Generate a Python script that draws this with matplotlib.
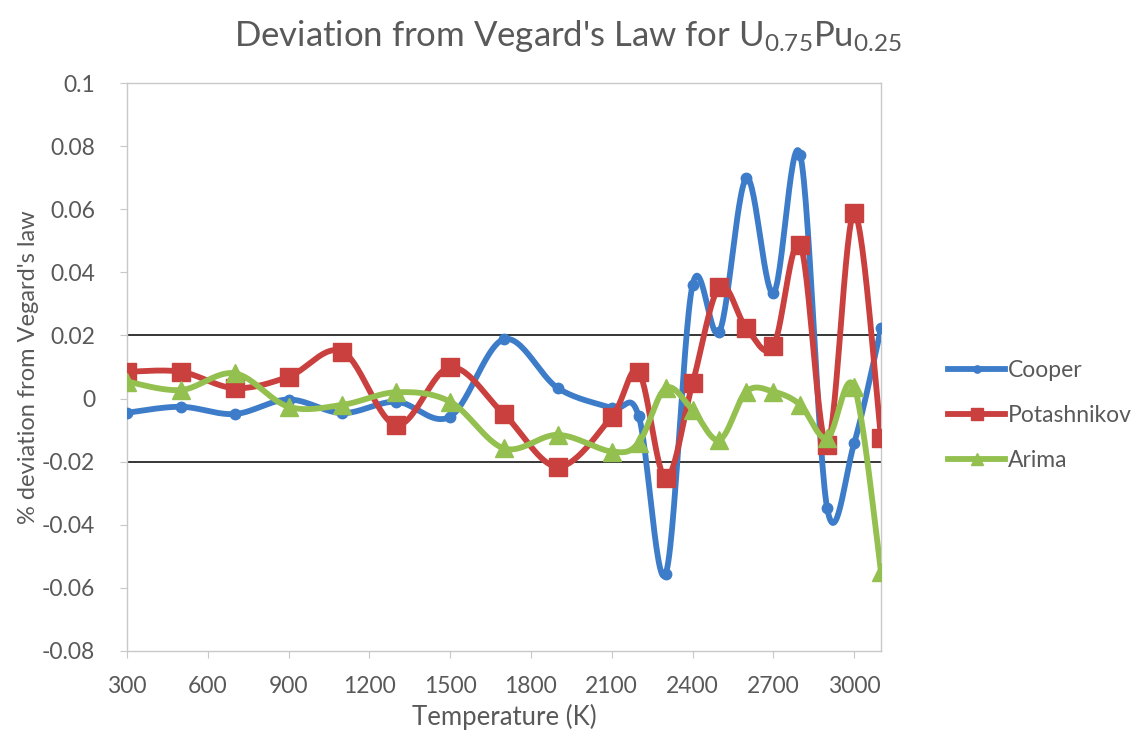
import numpy as np
import matplotlib
matplotlib.use("Agg")
import matplotlib.pyplot as plt
from matplotlib.lines import Line2D

plt.rcParams['font.family'] = ['Lato', 'DejaVu Sans']
plt.rcParams['mathtext.default'] = 'regular'

# data
temps = [300, 500, 700, 900, 1100, 1300, 1500, 1700, 1900, 2100,
         2200, 2300, 2400, 2500, 2600, 2700, 2800, 2900, 3000, 3100]
cooper = [-0.0045, -0.0026, -0.0049, -0.0003, -0.0046, -0.001, -0.0057, 0.0188, 0.0033, -0.003,
          -0.0055, -0.0556, 0.036, 0.0212, 0.0698, 0.0334, 0.0772, -0.0348, -0.0142, 0.0223]
potashnikov = [0.0085, 0.0085, 0.0033, 0.0069, 0.0149, -0.0084, 0.0099, -0.005, -0.0216, -0.0057,
               0.0085, -0.0253, 0.0048, 0.0355, 0.0223, 0.0165, 0.0487, -0.0147, 0.0587, -0.0126]
arima = [0.0054, 0.0027, 0.008, -0.0026, -0.002, 0.002, -0.001, -0.0158, -0.0115, -0.0168,
         -0.014, 0.0033, -0.0036, -0.0131, 0.0022, 0.0022, -0.002, -0.0126, 0.0038, -0.0549]
limits = [0.02, -0.02]

xticks = [300, 600, 900, 1200, 1500, 1800, 2100, 2400, 2700, 3000]
yticks = [0.1, 0.08, 0.06, 0.04, 0.02, 0, -0.02, -0.04, -0.06, -0.08]
ytick_labels = ['0.1', '0.08', '0.06', '0.04', '0.02', '0', '-0.02', '-0.04', '-0.06', '-0.08']


def smooth(x, y, n=30):
    # excel style smoothed line (catmull-rom as bezier)
    p = np.column_stack([x, y]).astype(float)
    out = [p[:1]]
    t = np.linspace(0, 1, n)[1:, None]
    for i in range(len(p) - 1):
        p0 = p[i - 1] if i > 0 else p[i]
        p1, p2 = p[i], p[i + 1]
        p3 = p[i + 2] if i + 2 < len(p) else p[i + 1]
        c1 = p1 + (p2 - p0) / 6
        c2 = p2 - (p3 - p1) / 6
        seg = ((1 - t) ** 3) * p1 + 3 * ((1 - t) ** 2) * t * c1 + 3 * (1 - t) * t ** 2 * c2 + t ** 3 * p2
        out.append(seg)
    s = np.vstack(out)
    return s[:, 0], s[:, 1]


fig = plt.figure(figsize=(11.42, 7.4), dpi=100)
ax = fig.add_axes([0.1112, 0.1203, 0.6603, 0.7675])

series = [
    ('Cooper', cooper, '#3D7CC9', 'o', 7.5),
    ('Potashnikov', potashnikov, '#C9403E', 's', 13),
    ('Arima', arima, '#93C04F', '^', 13),
]
handles = []
for name, vals, col, mk, ms in series:
    sx, sy = smooth(temps, vals)
    ax.plot(sx, sy, color=col, lw=4.2, solid_capstyle='round', zorder=3)
    ax.plot(temps, vals, ls='none', marker=mk, ms=ms, color=col, zorder=3)
    handles.append(Line2D([], [], color=col, lw=4.2, marker=mk, ms=ms * 0.7, label=name))

for v in limits:
    ax.axhline(v, color='black', lw=1.1, zorder=2)

ax.set_xlim(300, 3100)
ax.set_ylim(-0.08, 0.1)
ax.set_xticks(xticks)
ax.set_yticks(yticks)
ax.set_yticklabels(ytick_labels)
for s in ax.spines.values():
    s.set_color('#C8C8C8')
    s.set_linewidth(1.0)
ax.tick_params(direction='out', length=5, color='#C8C8C8', labelsize=16.5, labelcolor='#595959')
ax.tick_params(axis='y', pad=18)
ax.tick_params(axis='x', pad=13)

ax.set_xlabel('Temperature (K)', fontsize=18.5, color='#595959', labelpad=5)
ax.set_ylabel("% deviation from Vegard's law", fontsize=17, color='#595959')
ax.yaxis.set_label_coords(-0.117, 0.5)
fig.text(0.497, 0.951, r"Deviation from Vegard's Law for U$_{0.75}$Pu$_{0.25}$",
         ha='center', va='center', fontsize=25, color='#595959')

fig.legend(handles=handles, loc='center left', bbox_to_anchor=(0.812, 0.439),
           frameon=False, fontsize=16.5, handlelength=2.5, handletextpad=0.1,
           labelspacing=1.05, labelcolor='#595959')

fig.savefig('out.png', dpi=100)
